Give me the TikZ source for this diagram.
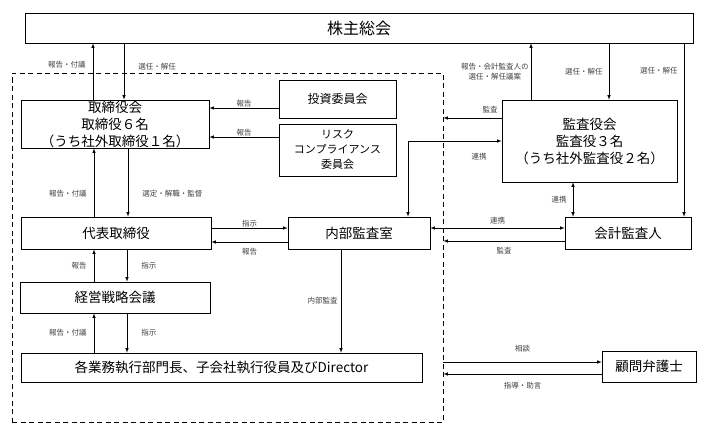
\documentclass[tikz,border=0pt]{standalone}
\usepackage{fontspec}
\setmainfont{Noto Sans CJK JP}
\usetikzlibrary{positioning}
\usetikzlibrary{arrows}
\tikzset{x=1pt, y=-1pt, >=latex,
box/.style={ % Sets the properties for each box
draw,
semithick,
align=center,
inner sep=0pt,
font=\fontsize{13.5}{17}\selectfont},
lbl/.style={ % Labels on the connectors
font=\fontsize{7.5}{10}\selectfont,
inner sep=1pt,
align=center,
text=black!75},
every edge/.style={ % Sets the properties for each connector
draw,
->,
semithick}}
\begin{document}
\begin{tikzpicture}
\useasboundingbox (0,0) rectangle (711,436);
\node[box, minimum width=668pt, minimum height=30pt, font=\fontsize{16}{19}\selectfont] (gm) at (359,28) {株主総会};
\node[draw, semithick, dash pattern=on 5pt off 3.5pt, minimum width=431pt, minimum height=349pt] (grp) at (227.5,247.5) {};
\node[box, minimum width=188pt, minimum height=48pt] (board) at (115,124) {取締役会\\取締役６名\\（うち社外取締役１名）};
\node[box, minimum width=117pt, minimum height=38pt, font=\fontsize{12}{15}\selectfont] (invest) at (337.5,99) {投資委員会};
\node[box, minimum width=117pt, minimum height=52pt, font=\fontsize{11}{15}\selectfont] (risk) at (337.5,150) {リスク\\コンプライアンス\\委員会};
\node[box, minimum width=190pt, minimum height=32pt] (rep) at (116,233) {代表取締役};
\node[box, minimum width=142pt, minimum height=32pt] (audit) at (359,233) {内部監査室};
\node[box, minimum width=190pt, minimum height=31pt] (mgmt) at (115,297.5) {経営戦略会議};
\node[box, minimum width=401pt, minimum height=29pt] (exec) at (221.5,367.5) {各業務執行部門長、子会社執行役員及びDirector};
\node[box, minimum width=175pt, minimum height=82pt] (kansa) at (589.5,141) {監査役会\\監査役３名\\（うち社外監査役２名）};
\node[box, minimum width=126pt, minimum height=32pt] (acct) at (628,233) {会計監査人};
\node[box, minimum width=94pt, minimum height=31pt] (lawyer) at (649,366.5) {顧問弁護士};
\draw ([xshift=-22pt]board.north) edge node[lbl, left=6pt, pos=0.62]{報告・付議} ([xshift=-22pt]board.north |- gm.south);
\draw ([xshift=9pt]board.north |- gm.south) edge node[lbl, right=13pt, pos=0.42]{選任・解任} ([xshift=9pt]board.north);
\draw ([yshift=-9pt]invest.west) edge node[lbl, above=0pt]{報告} ([yshift=-9pt]invest.west -| board.east);
\draw ([yshift=13pt]risk.west) edge node[lbl, above=0pt]{報告} ([yshift=13pt]risk.west -| board.east);
\draw ([xshift=-22pt]rep.north) edge node[lbl, left=6pt, pos=0.33]{報告・付議} ([xshift=-22pt]rep.north |- board.south);
\draw ([xshift=12pt]rep.north |- board.south) edge node[lbl, right=13pt, pos=0.67]{選定・解職・監督} ([xshift=12pt]rep.north);
\draw ([yshift=5pt]rep.east) edge node[lbl, above=0pt]{指示} ([yshift=5pt]rep.east -| audit.west);
\draw ([yshift=-9pt]audit.west) edge node[lbl, below=4.5pt]{報告} ([yshift=-9pt]audit.west -| rep.east);
\draw ([xshift=-21pt]mgmt.north) edge node[lbl, left=6pt]{報告} ([xshift=-21pt]mgmt.north |- rep.south);
\draw ([xshift=11pt]rep.south) edge node[lbl, right=13pt]{指示} ([xshift=11pt]rep.south |- mgmt.north);
\draw ([xshift=-21pt]mgmt.south |- exec.north) edge node[lbl, left=6pt]{報告・付議} ([xshift=-21pt]mgmt.south);
\draw ([xshift=12pt]mgmt.south) edge node[lbl, right=13pt]{指示} ([xshift=12pt]mgmt.south |- exec.north);
\draw ([xshift=-18pt]audit.south) edge node[lbl, left=2pt]{内部監査} ([xshift=-18pt]audit.south |- exec.north);
\draw ([xshift=-58.5pt]kansa.north) edge node[lbl, left=1pt]{報告・会計監査人の\\選任・解任議案} ([xshift=-58.5pt]kansa.north |- gm.south);
\draw ([xshift=19.5pt]kansa.north |- gm.south) edge node[lbl, left=5pt]{選任・解任} ([xshift=19.5pt]kansa.north);
\draw ([xshift=56pt]acct.north |- gm.south) edge node[lbl, left=5pt, pos=0.16]{選任・解任} ([xshift=56pt]acct.north);
\draw ([yshift=23pt]kansa.west) edge node[lbl, above=3.5pt, pos=0.2]{監査} ([yshift=23pt]kansa.west -| grp.east);
\draw[<->, semithick] (kansa.west) -| node[lbl, below=10.5pt, pos=0.12]{連携} ([xshift=49pt]audit.north);
\draw ([xshift=-16.5pt]kansa.south) edge[<->] node[lbl, left=5pt]{連携} ([xshift=-16.5pt]kansa.south |- acct.north);
\draw ([yshift=5pt]acct.west) edge[<->] node[lbl, above=3pt]{連携} ([yshift=5pt]acct.west -| audit.east);
\draw ([yshift=-8pt]acct.west) edge node[lbl, below=5pt]{監査} ([yshift=-8pt]acct.west -| grp.east);
\draw ([yshift=4.5pt]lawyer.west -| grp.east) edge node[lbl, above=9pt]{相談} ([yshift=4.5pt]lawyer.west);
\draw ([yshift=-7.5pt]lawyer.west) edge node[lbl, below=6.5pt]{指導・助言} ([yshift=-7.5pt]lawyer.west -| grp.east);
\end{tikzpicture}
\end{document}
